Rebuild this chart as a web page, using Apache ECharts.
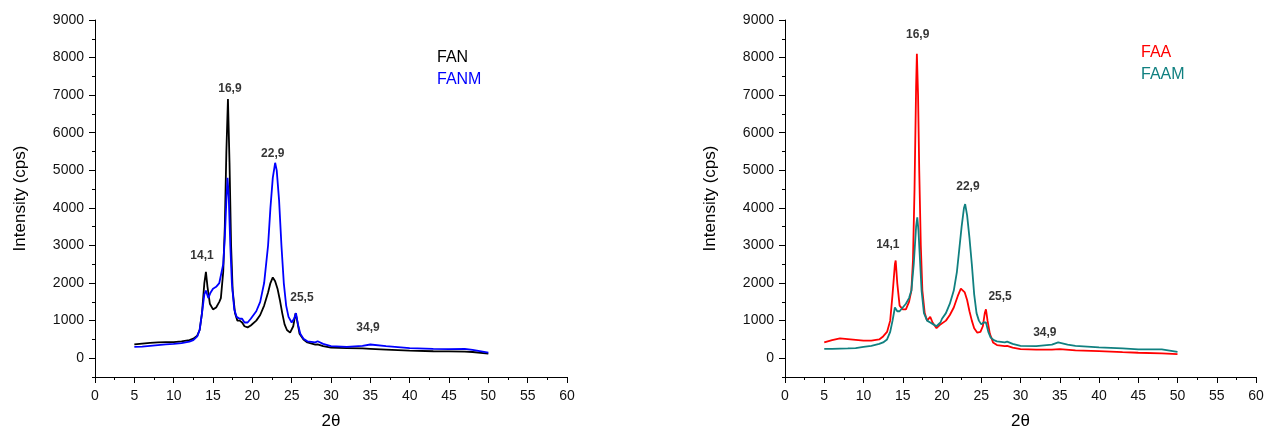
<!DOCTYPE html>
<html>
<head>
<meta charset="utf-8">
<script src="https://cdn.jsdelivr.net/npm/echarts@6/dist/echarts.min.js"></script>
<style>
  html, body { margin: 0; padding: 0; background: #fff; }
  #main { width: 1264px; height: 428px; }
</style>
</head>
<body>
<div id="main"></div>
<script>
// 2θ (deg), intensity (cps)
let fanX = [5, 6, 7, 8, 9, 10, 11, 12, 12.5, 13, 13.3, 13.6, 13.9, 14.1, 14.3, 14.6, 15, 15.4, 15.8, 16.0, 16.3, 16.5, 16.7, 16.9, 17.1, 17.3, 17.5, 17.8, 18.1, 18.4, 18.7, 19.0, 19.4, 19.8, 20, 20.5, 21, 21.5, 22, 22.3, 22.6, 22.9, 23.2, 23.5, 23.8, 24.1, 24.4, 24.8, 25.2, 25.5, 25.7, 26.0, 26.5, 27, 28, 28.3, 29, 30, 32, 34, 35, 37, 40, 43, 45, 47, 48, 50];
let fanY = [370, 390, 410, 420, 430, 430, 450, 480, 520, 600, 750, 1200, 2000, 2300, 1900, 1450, 1300, 1350, 1500, 1600, 2300, 3500, 5500, 6900, 5200, 3000, 1800, 1200, 1000, 1000, 950, 850, 820, 870, 900, 1000, 1150, 1400, 1750, 2000, 2150, 2050, 1850, 1550, 1200, 900, 750, 680, 850, 1200, 1000, 650, 500, 420, 360, 370, 320, 280, 270, 260, 250, 230, 200, 185, 180, 175, 165, 120];

let fanmX = [5, 6, 7, 8, 9, 10, 11, 12, 12.5, 13, 13.3, 13.6, 13.9, 14.1, 14.4, 14.7, 15, 15.4, 15.8, 16.0, 16.3, 16.5, 16.7, 16.85, 17.0, 17.2, 17.4, 17.7, 18.0, 18.4, 18.7, 19.0, 19.4, 19.8, 20, 20.5, 21, 21.5, 22, 22.3, 22.6, 22.9, 23.1, 23.4, 23.7, 24.0, 24.3, 24.6, 25.0, 25.3, 25.55, 25.8, 26.1, 26.5, 27, 28, 28.3, 29, 30, 32, 34, 35, 37, 40, 43, 45, 47, 48, 50];
let fanmY = [300, 310, 330, 350, 370, 380, 400, 440, 480, 580, 750, 1200, 1700, 1800, 1600, 1750, 1850, 1900, 2000, 2000, 2500, 3200, 4200, 4800, 4300, 3000, 2000, 1300, 1100, 1050, 1050, 950, 950, 1050, 1100, 1250, 1500, 2000, 3000, 4000, 4800, 5200, 5000, 4200, 3000, 2000, 1400, 1100, 950, 1050, 1200, 900, 650, 520, 450, 420, 450, 380, 320, 300, 330, 365, 320, 270, 250, 240, 250, 220, 150];

let faaX = [5, 6, 7, 8, 9, 10, 11, 12, 12.5, 13, 13.4, 13.7, 14.0, 14.1, 14.3, 14.6, 15, 15.4, 15.8, 16.1, 16.3, 16.5, 16.7, 16.8, 16.95, 17.1, 17.3, 17.5, 17.8, 18.1, 18.5, 18.8, 19.3, 19.8, 20, 20.5, 21, 21.5, 22, 22.4, 22.6, 22.9, 23.2, 23.5, 23.8, 24.1, 24.5, 24.9, 25.2, 25.45, 25.6, 25.8, 26.1, 26.5, 27, 28, 28.3, 29, 30, 32, 34, 35, 37, 40, 43, 45, 48, 50];
let faaY = [420, 480, 530, 510, 490, 470, 470, 500, 580, 700, 1000, 1700, 2500, 2600, 2000, 1400, 1300, 1300, 1500, 1800, 2600, 4500, 7200, 8100, 7000, 5000, 3000, 1800, 1200, 1000, 1100, 950, 800, 900, 900, 1000, 1150, 1350, 1650, 1850, 1870, 1750, 1550, 1250, 1000, 800, 680, 700, 850, 1200, 1300, 1000, 650, 420, 350, 320, 330, 280, 240, 230, 230, 240, 210, 190, 160, 145, 130, 110];

let faamX = [5, 6, 7, 8, 9, 10, 11, 12, 12.5, 13, 13.4, 13.7, 14.0, 14.1, 14.3, 14.6, 15, 15.4, 15.8, 16.1, 16.4, 16.7, 16.85, 17.0, 17.2, 17.4, 17.7, 18.1, 18.5, 18.9, 19.3, 19.8, 20, 20.5, 21, 21.5, 21.9, 22.2, 22.5, 22.8, 22.95, 23.2, 23.5, 23.8, 24.1, 24.4, 24.7, 25.0, 25.3, 25.6, 25.9, 26.2, 26.6, 27, 28, 28.3, 29, 30, 32, 34, 34.8, 36, 37, 40, 43, 45, 48, 50];
let faamY = [250, 250, 255, 260, 270, 300, 330, 380, 420, 500, 700, 1000, 1350, 1400, 1250, 1250, 1350, 1450, 1600, 1800, 2500, 3500, 3750, 3400, 2600, 1800, 1200, 1000, 950, 900, 850, 950, 1050, 1200, 1450, 1800, 2300, 2900, 3500, 4000, 4100, 3800, 3200, 2500, 1700, 1200, 1000, 900, 950, 950, 700, 550, 480, 450, 420, 440, 380, 330, 320, 360, 420, 360, 330, 290, 260, 235, 235, 170];

// peak annotations: [2θ, y position, text]
let peaksLeft = [[13.6, 2720, '14,1'], [17.15, 7170, '16,9'], [22.6, 5440, '22,9'], [26.3, 1600, '25,5'], [34.7, 800, '34,9']];
let peaksRight = [[13.1, 3010, '14,1'], [16.9, 8610, '16,9'], [23.3, 4560, '22,9'], [27.4, 1630, '25,5'], [33.1, 670, '34,9']];

let yMajor = [0, 1000, 2000, 3000, 4000, 5000, 6000, 7000, 8000, 9000];

function pairs(xs, ys) {
    return xs.map(function (x, i) { return [x, ys[i]]; });
}

let font = 'Liberation Sans, Arial, sans-serif';

function xAxisFor(grid) {
    return {
        type: 'value', gridIndex: grid, min: 0, max: 60, interval: 5,
        name: '2\u03b8', nameLocation: 'middle', nameGap: 36,
        nameTextStyle: { color: '#000', fontSize: 17, fontFamily: font },
        axisLine: { onZero: false, lineStyle: { color: '#000', width: 1 } },
        axisTick: { length: 6, lineStyle: { color: '#000' } },
        minorTick: { show: true, splitNumber: 2, length: 3, lineStyle: { color: '#000' } },
        axisLabel: { color: '#111', fontSize: 14, fontFamily: font, margin: 12 },
        splitLine: { show: false }
    };
}

function yAxesFor(grid) {
    return [{
        type: 'value', gridIndex: grid, min: -500, max: 9000, interval: 500,
        name: 'Intensity (cps)', nameLocation: 'middle', nameGap: 66,
        nameTextStyle: { color: '#000', fontSize: 17, fontFamily: font },
        axisLine: { show: true, lineStyle: { color: '#000', width: 1 } },
        axisTick: { show: true, length: 3, lineStyle: { color: '#000' } },
        axisLabel: {
            color: '#111', fontSize: 14, fontFamily: font, margin: 11,
            formatter: function (v) { return (v >= 0 && v % 1000 === 0) ? String(v) : ''; }
        },
        splitLine: { show: false }
    }, {
        type: 'value', gridIndex: grid, min: -500, max: 9000, position: 'left',
        axisLine: { show: false },
        axisTick: { show: true, length: 6, customValues: yMajor, lineStyle: { color: '#000' } },
        axisLabel: { show: false },
        splitLine: { show: false }
    }];
}

function lineSeries(name, xi, yi, xs, ys, color) {
    return {
        name: name, type: 'line', xAxisIndex: xi, yAxisIndex: yi,
        data: pairs(xs, ys), symbol: 'none', silent: true,
        lineStyle: { color: color, width: 1.8 }, itemStyle: { color: color }
    };
}

function peakSeries(xi, yi, peaks) {
    return {
        type: 'scatter', xAxisIndex: xi, yAxisIndex: yi, symbolSize: 0, silent: true,
        data: peaks.map(function (p) { return { value: [p[0], p[1]], name: p[2] }; }),
        label: {
            show: true, position: 'inside', formatter: '{b}',
            color: '#000', fontSize: 12, fontWeight: 'bold', fontFamily: font
        }
    };
}

let chart = echarts.init(document.getElementById('main'), null, { renderer: 'canvas' });

let option = {
    backgroundColor: '#fff',
    animation: false,
    grid: [
        { left: 95, width: 472, top: 20, bottom: 51, outerBoundsMode: 'none' },
        { left: 785, width: 471, top: 20, bottom: 51, outerBoundsMode: 'none' }
    ],
    legend: [{
        left: 432, top: 45, orient: 'vertical', icon: 'none', itemWidth: 0, itemGap: 6,
        selectedMode: false,
        textStyle: { fontSize: 16, fontFamily: font, padding: [0, 0, 0, -5] },
        data: [
            { name: 'FAN', textStyle: { color: '#000' } },
            { name: 'FANM', textStyle: { color: '#0000ff' } }
        ]
    }, {
        left: 1136, top: 40, orient: 'vertical', icon: 'none', itemWidth: 0, itemGap: 6,
        selectedMode: false,
        textStyle: { fontSize: 16, fontFamily: font, padding: [0, 0, 0, -5] },
        data: [
            { name: 'FAA', textStyle: { color: '#ff0000' } },
            { name: 'FAAM', textStyle: { color: '#108080' } }
        ]
    }],
    xAxis: [xAxisFor(0), xAxisFor(1)],
    yAxis: yAxesFor(0).concat(yAxesFor(1)),
    series: [
        lineSeries('FAN', 0, 0, fanX, fanY, '#000000'),
        lineSeries('FANM', 0, 0, fanmX, fanmY, '#0000ff'),
        peakSeries(0, 0, peaksLeft),
        lineSeries('FAA', 1, 2, faaX, faaY, '#ff0000'),
        lineSeries('FAAM', 1, 2, faamX, faamY, '#108080'),
        peakSeries(1, 2, peaksRight)
    ]
};

chart.setOption(option);
window.addEventListener('resize', chart.resize);
</script>
</body>
</html>
